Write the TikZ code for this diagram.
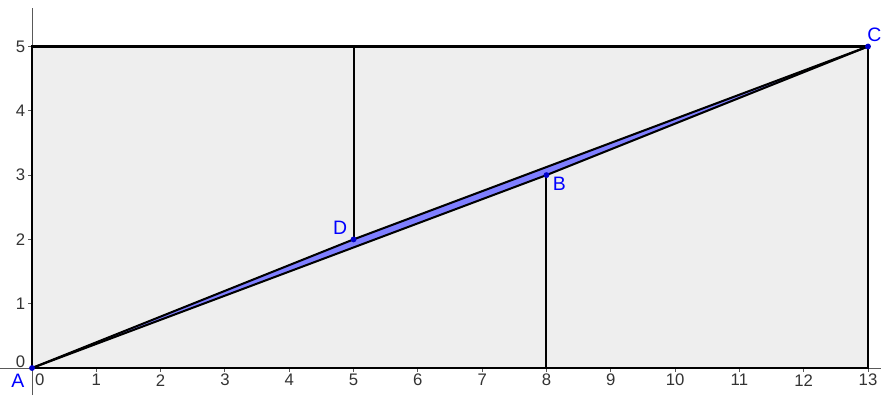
\documentclass[tikz,border=0pt]{standalone}
\usepackage{fontspec}
\setmainfont{Liberation Sans}
\usepackage{tikz}
\definecolor{Paper}{HTML}{EEEEEE}
\definecolor{Sliver}{HTML}{7F7FFF}
\definecolor{Dot}{HTML}{0000CC}
\definecolor{Tag}{HTML}{0000FF}

\begin{document}
\begin{tikzpicture}[
  x=1cm, y=1cm,
  axis/.style={draw=black!65, line width=0.45pt},
  frame/.style={draw=black, line width=0.9pt},
  seg/.style={draw=black, line width=0.9pt, line join=round},
  num/.style={font=\fontsize{7.4}{8}\selectfont, text=black!80, inner sep=0pt},
  tag/.style={font=\fontsize{8.6}{9}\selectfont, text=Tag, inner sep=0pt},
  dot/.style={circle, fill=Dot, inner sep=0pt, minimum size=2.6pt}
]
  \useasboundingbox (-0.498,-0.42) rectangle (13.202,5.723);
  % points of the puzzle
  \coordinate (A) at (0,0);
  \coordinate (B) at (8,3);
  \coordinate (C) at (13,5);
  \coordinate (D) at (5,2);
  \coordinate (Dtop) at (5,5);
  \coordinate (Bfoot) at (8,0);
  % axes ends
  \coordinate (xl) at (-0.5,0);
  \coordinate (xr) at (13.2,0);
  \coordinate (yb) at (0,-0.42);
  \coordinate (yt) at (0,5.6);

  \fill[Paper] (0,0) rectangle (13,5);
  \draw[axis] (xl) -- (xr);
  \draw[axis] (yb) -- (yt);
  \foreach \i in {1,...,13} {
    \draw[axis] (\i,0) -- (\i,-0.06);
    \node[num] at (\i,-0.19) {\i};
  }
  \foreach \j in {1,...,5} {
    \draw[axis] (0,\j) -- (-0.06,\j);
    \node[num, anchor=east] at (-0.1,\j) {\j};
  }
  \node[num] at (0.12,-0.19) {0};
  \node[num, anchor=east] at (-0.1,0.09) {0};

  % the sliver between the two hypotenuses
  \fill[Sliver] (A) -- (B) -- (C) -- (D) -- cycle;
  \draw[frame] (0,0) rectangle (13,5);
  \draw[seg] (A) -- (B) -- (C);
  \draw[seg] (A) -- (D) -- (C);
  \draw[seg] (D) -- (Dtop);
  \draw[seg] (B) -- (Bfoot);

  \foreach \p in {A,B,C,D} \node[dot] at (\p) {};
  \node[tag] at (-0.22,-0.2) {A};
  \node[tag] at (8.2,2.86) {B};
  \node[tag] at (13.1,5.18) {C};
  \node[tag] at (4.79,2.18) {D};
\end{tikzpicture}
\end{document}
